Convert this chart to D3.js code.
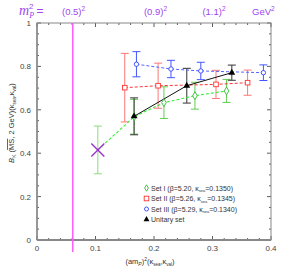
<!DOCTYPE html>
<html>
<head>
<meta charset="utf-8">
<script src="https://cdn.jsdelivr.net/npm/d3@7"></script>
<style>
body { margin: 0; background: #fff; }
text { font-family: "Liberation Sans", Arial, sans-serif; }
</style>
</head>
<body>
<div class="canva"></div>
<script>
// data
const setI_x = [0.166, 0.217, 0.270, 0.324];
const setI_y = [0.568, 0.633, 0.665, 0.687];
const setI_err = [0.080, 0.073, 0.062, 0.053];

const setII_x = [0.150, 0.207, 0.306, 0.360];
const setII_y = [0.702, 0.711, 0.717, 0.725];
const setII_err = [0.158, 0.104, 0.065, 0.058];

const setIII_x = [0.170, 0.229, 0.280, 0.387];
const setIII_y = [0.810, 0.788, 0.779, 0.771];
const setIII_err = [0.058, 0.040, 0.040, 0.036];

const unit_x = [0.166, 0.256, 0.333];
const unit_y = [0.570, 0.711, 0.771];
const unit_err = [0.085, 0.080, 0.035];

// chiral extrapolation of set I
const chiral_x = [0.104];
const chiral_y = [0.415];
const chiral_err = [0.110];

const xTicks = [0, 0.1, 0.2, 0.3, 0.4];
const yTicks = [0, 0.2, 0.4, 0.6, 0.8, 1];
const mpTicks = [0.5, 0.9, 1.1];   // GeV
const a2 = 0.25;                   // (am_P)^2 per GeV^2

const svg = d3.select(".canva").append("svg")
  .attr("width", 294).attr("height", 273);

const x = d3.scaleLinear().domain([0, 0.4]).range([37, 271]);
const y = d3.scaleLinear().domain([0, 1]).range([240, 23]);

const frameCol = "#888";

// minor + major ticks, all four sides
const g = svg.append("g");
d3.range(0, 0.4001, 0.02).forEach(v => {
  const major = Math.abs(v * 10 - Math.round(v * 10)) < 1e-6;
  const l = major ? 4 : 2;
  g.append("line").attr("x1", x(v)).attr("x2", x(v)).attr("y1", y(0)).attr("y2", y(0) - l).attr("stroke", "#333").attr("stroke-width", 0.8);
  g.append("line").attr("x1", x(v)).attr("x2", x(v)).attr("y1", y(1)).attr("y2", y(1) + l).attr("stroke", "#333").attr("stroke-width", 0.8);
});
d3.range(0, 1.0001, 0.05).forEach(v => {
  const major = Math.abs(v * 5 - Math.round(v * 5)) < 1e-6;
  const l = major ? 4 : 2;
  g.append("line").attr("x1", x(0)).attr("x2", x(0) + l).attr("y1", y(v)).attr("y2", y(v)).attr("stroke", "#333").attr("stroke-width", 0.8);
  g.append("line").attr("x1", x(0.4)).attr("x2", x(0.4) - l).attr("y1", y(v)).attr("y2", y(v)).attr("stroke", "#333").attr("stroke-width", 0.8);
});

// frame
svg.append("rect").attr("x", x(0)).attr("y", y(1))
  .attr("width", x(0.4) - x(0)).attr("height", y(0) - y(1))
  .attr("fill", "none").attr("stroke", frameCol).attr("stroke-width", 1);
svg.append("line").attr("x1", x(0)).attr("x2", x(0.4)).attr("y1", y(0)).attr("y2", y(0))
  .attr("stroke", frameCol).attr("stroke-width", 2);
svg.append("line").attr("x1", x(0)).attr("x2", x(0)).attr("y1", y(0)).attr("y2", y(1))
  .attr("stroke", frameCol).attr("stroke-width", 1.5);

// tick labels
svg.selectAll(".xt").data(xTicks).enter().append("text")
  .attr("x", d => x(d)).attr("y", 251).attr("text-anchor", "middle")
  .style("font-size", "8px").attr("fill", "#444").text(d => d);
svg.selectAll(".yt").data(yTicks).enter().append("text")
  .attr("x", 31).attr("y", d => y(d) + 3).attr("text-anchor", "end")
  .style("font-size", "8px").attr("fill", "#444").text(d => d);

// pink line at m_P = 0.5 GeV
svg.append("line").attr("x1", x(a2 * 0.25) - 0.8).attr("x2", x(a2 * 0.25) - 0.8)
  .attr("y1", y(1)).attr("y2", 252).attr("stroke", "#ff55ff").attr("stroke-width", 1.4);

// top labels
const purple = "#a045f0";
const topLab = svg.append("text").attr("x", 19).attr("y", 15).attr("fill", purple).style("font-size", "11px");
topLab.append("tspan").style("font-style", "italic").style("font-family", "'Liberation Serif', serif").style("font-size", "14px").text("m");
topLab.append("tspan").attr("dy", 3).style("font-size", "8px").style("font-style", "italic").style("font-family", "'Liberation Serif', serif").text("P");
topLab.append("tspan").attr("dx", -5).attr("dy", -9).style("font-size", "8px").text("2");
topLab.append("tspan").attr("dx", 3).attr("dy", 6).style("font-size", "12px").text("=");
mpTicks.forEach(m => {
  const t = svg.append("text").attr("x", x(a2 * m * m)).attr("y", 15)
    .attr("text-anchor", "middle").attr("fill", purple).style("font-size", "9.5px");
  t.append("tspan").text("(" + m + ")");
  t.append("tspan").attr("dy", -4).style("font-size", "6.5px").text("2");
});
const gev = svg.append("text").attr("x", 252).attr("y", 15).attr("fill", purple).style("font-size", "9.5px");
gev.append("tspan").text("GeV");
gev.append("tspan").attr("dy", -4).style("font-size", "6.5px").text("2");

// axis titles
const xl = svg.append("text").attr("x", 150).attr("y", 264).attr("text-anchor", "middle")
  .attr("fill", "#333").style("font-size", "7.5px");
xl.append("tspan").text("(am");
xl.append("tspan").attr("dy", 1.5).style("font-size", "5px").style("font-style", "italic").text("P");
xl.append("tspan").attr("dy", -1.5).text(")");
xl.append("tspan").attr("dy", -3).style("font-size", "5px").text("2");
xl.append("tspan").attr("dy", 3).text("(κ");
xl.append("tspan").attr("dy", 1.5).style("font-size", "4.5px").text("sea");
xl.append("tspan").attr("dy", -1.5).text(",κ");
xl.append("tspan").attr("dy", 1.5).style("font-size", "4.5px").text("val");
xl.append("tspan").attr("dy", -1.5).text(")");

const yl = svg.append("text").attr("transform", "translate(14,123) rotate(-90)")
  .attr("text-anchor", "middle").attr("fill", "#333").style("font-size", "7.5px");
yl.append("tspan").style("font-style", "italic").text("B");
yl.append("tspan").attr("dy", 1.5).style("font-size", "5px").text("K");
yl.append("tspan").attr("dy", -1.5).text(" (");
yl.append("tspan").style("text-decoration", "overline").text("MS");
yl.append("tspan").text(", 2 GeV)(κ");
yl.append("tspan").attr("dy", 1.5).style("font-size", "4.5px").text("sea");
yl.append("tspan").attr("dy", -1.5).text(",κ");
yl.append("tspan").attr("dy", 1.5).style("font-size", "4.5px").text("val");
yl.append("tspan").attr("dy", -1.5).text(")");

// helpers
function zip(xs, ys, es) { return xs.map((v, i) => ({ x: v, y: ys[i], e: es[i] })); }
function errBars(data, col, w) {
  const eg = svg.append("g").attr("stroke", col).attr("stroke-width", w || 1);
  data.forEach(d => {
    eg.append("line").attr("x1", x(d.x)).attr("x2", x(d.x)).attr("y1", y(d.y - d.e)).attr("y2", y(d.y + d.e));
    eg.append("line").attr("x1", x(d.x) - 4).attr("x2", x(d.x) + 4).attr("y1", y(d.y - d.e)).attr("y2", y(d.y - d.e));
    eg.append("line").attr("x1", x(d.x) - 4).attr("x2", x(d.x) + 4).attr("y1", y(d.y + d.e)).attr("y2", y(d.y + d.e));
  });
}
const line = d3.line().x(d => x(d.x)).y(d => y(d.y));

const s1 = zip(setI_x, setI_y, setI_err);
const s2 = zip(setII_x, setII_y, setII_err);
const s3 = zip(setIII_x, setIII_y, setIII_err);
const su = zip(unit_x, unit_y, unit_err);
const sc = zip(chiral_x, chiral_y, chiral_err);

// error bars
errBars(sc, "#88dd77");
errBars(s1, "#66cc55");
errBars(s2, "#ff7777");
errBars(s3, "#4455ff");
errBars(su, "#444", 1.1);

// fit lines
svg.append("path").datum(sc.concat(s1)).attr("d", line).attr("fill", "none")
  .attr("stroke", "#33ee33").attr("stroke-width", 1.1).attr("stroke-dasharray", "3,2");
svg.append("path").datum(s2).attr("d", line).attr("fill", "none")
  .attr("stroke", "#ff3333").attr("stroke-width", 1).attr("stroke-dasharray", "3,2");
svg.append("path").datum(s3).attr("d", line).attr("fill", "none")
  .attr("stroke", "#5566ff").attr("stroke-width", 1).attr("stroke-dasharray", "3,2");
svg.append("path").datum(su).attr("d", line).attr("fill", "none")
  .attr("stroke", "#111").attr("stroke-width", 1);

// markers
const sym = (type, size) => d3.symbol().type(type).size(size);
svg.selectAll(".m1").data(s1).enter().append("path")
  .attr("transform", d => `translate(${x(d.x)},${y(d.y)})`)
  .attr("d", sym(d3.symbolDiamond, 18)).attr("fill", "#fff").attr("stroke", "#33bb33").attr("stroke-width", 0.9);
svg.selectAll(".m2").data(s2).enter().append("rect")
  .attr("x", d => x(d.x) - 2.3).attr("y", d => y(d.y) - 2.3).attr("width", 4.6).attr("height", 4.6)
  .attr("fill", "#fff").attr("stroke", "#ff3333").attr("stroke-width", 0.9);
svg.selectAll(".m3").data(s3).enter().append("circle")
  .attr("cx", d => x(d.x)).attr("cy", d => y(d.y)).attr("r", 2.2)
  .attr("fill", "#fff").attr("stroke", "#3344ff").attr("stroke-width", 0.9);
svg.selectAll(".mu").data(su).enter().append("path")
  .attr("transform", d => `translate(${x(d.x)},${y(d.y)})`)
  .attr("d", sym(d3.symbolTriangle, 20)).attr("fill", "#000");

// chiral point: big cross
sc.forEach(d => {
  [[-1, -1, 1, 1], [-1, 1, 1, -1]].forEach(c => {
    svg.append("line").attr("x1", x(d.x) + 6.5 * c[0]).attr("y1", y(d.y) + 6.5 * c[1])
      .attr("x2", x(d.x) + 6.5 * c[2]).attr("y2", y(d.y) + 6.5 * c[3])
      .attr("stroke", "#9933cc").attr("stroke-width", 1.4);
  });
});

// legend
const legend = [
  { name: "Set I (β=5.20, κ", k: "=0.1350)", kind: "diamond" },
  { name: "Set II (β=5.26, κ", k: "=0.1345)", kind: "square" },
  { name: "Set III (β=5.29, κ", k: "=0.1340)", kind: "circle" },
  { name: "Unitary set", k: null, kind: "triangle" }
];
legend.forEach((d, i) => {
  const ly = 188 + i * 10.5;
  const mx = 146.5;
  if (d.kind === "diamond") svg.append("path").attr("transform", `translate(${mx},${ly})`).attr("d", sym(d3.symbolDiamond, 12)).attr("fill", "#fff").attr("stroke", "#33bb33").attr("stroke-width", 0.9);
  if (d.kind === "square") svg.append("rect").attr("x", mx - 2.3).attr("y", ly - 2.3).attr("width", 4.6).attr("height", 4.6).attr("fill", "#fff").attr("stroke", "#ff3333").attr("stroke-width", 0.9);
  if (d.kind === "circle") svg.append("circle").attr("cx", mx).attr("cy", ly).attr("r", 2).attr("fill", "#fff").attr("stroke", "#3344ff").attr("stroke-width", 0.9);
  if (d.kind === "triangle") svg.append("path").attr("transform", `translate(${mx},${ly})`).attr("d", sym(d3.symbolTriangle, 15)).attr("fill", "#000");
  const t = svg.append("text").attr("x", 151).attr("y", ly + 2.5).attr("fill", "#333").style("font-size", "7px");
  t.append("tspan").text(d.name);
  if (d.k) {
    t.append("tspan").attr("dy", 1.5).style("font-size", "4px").text("sea");
    t.append("tspan").attr("dy", -1.5).text(d.k);
  }
});
</script>
</body>
</html>
